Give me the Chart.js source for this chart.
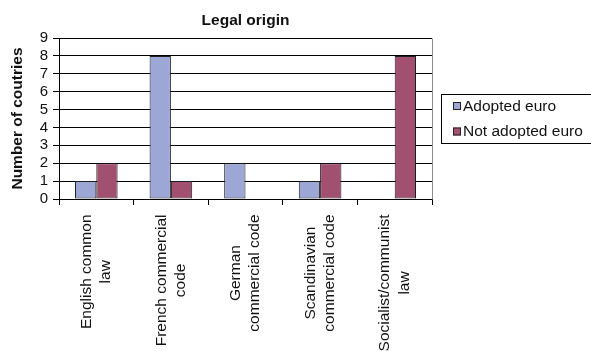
<!DOCTYPE html>
<html>
<head>
<meta charset="utf-8">
<script src="https://cdn.jsdelivr.net/npm/chart.js@4"></script>
<style>
  html, body { margin: 0; padding: 0; background: #fff; }
  #wrap { width: 591px; height: 351px; position: relative; }
</style>
</head>
<body>
<div id="wrap"><canvas id="c" width="591" height="351"></canvas></div>
<script>
// Countries by legal origin, split by euro adoption
const chartTitle = 'Legal origin';
const yAxisTitle = 'Number of coutries';
const categories = [
  ['English common', 'law'],
  ['French commercial', 'code'],
  ['German', 'commercial code'],
  ['Scandinavian', 'commercial code'],
  ['Socialist/communist', 'law']
];
const seriesNames = ['Adopted euro', 'Not adopted euro'];
const adoptedEuro = [1, 8, 2, 1, 0];
const notAdoptedEuro = [2, 1, 0, 2, 8];
const seriesColors = ['#9DA7D6', '#A2506F'];
const yMin = 0, yMax = 9, yStep = 1;

const FONT = '"Liberation Sans", Arial, Helvetica, sans-serif';
const TEXT = '#111';

// Title, axis title, rotated category labels and boxed legend
const decorations = {
  id: 'decorations',
  afterDraw(chart) {
    const ctx = chart.ctx;
    const area = chart.chartArea;
    const xs = chart.scales.x;
    ctx.save();

    // right frame edge of the plot area
    ctx.strokeStyle = '#8c8c8c';
    ctx.lineWidth = 1;
    ctx.beginPath();
    ctx.moveTo(Math.round(area.right) + 0.5, Math.round(area.top) + 0.5);
    ctx.lineTo(Math.round(area.right) + 0.5, Math.round(area.bottom) + 0.5);
    ctx.stroke();

    // chart title
    ctx.fillStyle = TEXT;
    ctx.font = 'bold 15.5px ' + FONT;
    ctx.textAlign = 'center';
    ctx.textBaseline = 'middle';
    ctx.fillText(chartTitle, (area.left + area.right) / 2, 21);

    // y axis title
    ctx.save();
    ctx.translate(18, (area.top + area.bottom) / 2);
    ctx.rotate(-Math.PI / 2);
    ctx.fillText(yAxisTitle, 0, 0);
    ctx.restore();

    // category labels, reading upwards, lines centred on each other
    ctx.font = '15.5px ' + FONT;
    const lineH = 19.3;
    const labelTop = 214.5;
    categories.forEach((lines, i) => {
      const x = xs.getPixelForValue(i);
      const maxW = Math.max(...lines.map(l => ctx.measureText(l).width));
      ctx.save();
      ctx.translate(x, labelTop);
      ctx.rotate(-Math.PI / 2);
      ctx.textAlign = 'center';
      ctx.textBaseline = 'middle';
      lines.forEach((l, j) => {
        ctx.fillText(l, -maxW / 2, (j - (lines.length - 1) / 2) * lineH);
      });
      ctx.restore();
    });

    // legend box
    ctx.strokeStyle = '#000';
    ctx.lineWidth = 1;
    ctx.strokeRect(441.5, 94.5, 160, 49);
    ctx.textAlign = 'left';
    ctx.textBaseline = 'middle';
    const rowY = [106, 131.5];
    chart.data.datasets.forEach((ds, k) => {
      const y = rowY[k];
      ctx.fillStyle = ds.backgroundColor;
      ctx.fillRect(453, y - 4, 8, 8);
      ctx.strokeStyle = '#222';
      ctx.strokeRect(453.5, y - 3.5, 7, 7);
      ctx.fillStyle = TEXT;
      ctx.fillText(ds.label, 463, y + 0.5);
    });
    ctx.restore();
  }
};

new Chart(document.getElementById('c'), {
  type: 'bar',
  data: {
    labels: categories,
    datasets: [
      {
        label: seriesNames[0],
        data: adoptedEuro,
        backgroundColor: seriesColors[0],
        borderColor: '#1e1e1e',
        borderWidth: 1,
        borderSkipped: false
      },
      {
        label: seriesNames[1],
        data: notAdoptedEuro,
        backgroundColor: seriesColors[1],
        borderColor: '#1e1e1e',
        borderWidth: 1,
        borderSkipped: false
      }
    ]
  },
  options: {
    responsive: false,
    devicePixelRatio: 1,
    animation: false,
    events: [],
    layout: { padding: { top: 38, right: 159, left: 0, bottom: 0 } },
    datasets: {
      bar: { barPercentage: 1, categoryPercentage: 2 / 3.5 }
    },
    plugins: {
      legend: { display: false },
      title: { display: false },
      tooltip: { enabled: false }
    },
    scales: {
      x: {
        afterFit(scale) { scale.height = 152; },
        ticks: { display: false },
        grid: {
          offset: true,
          drawOnChartArea: false,
          drawTicks: true,
          tickLength: 6,
          color: '#000',
          lineWidth: 1
        },
        border: { display: true, color: '#000', width: 1 }
      },
      y: {
        min: yMin,
        max: yMax,
        afterFit(scale) { scale.width = 59; },
        ticks: {
          stepSize: yStep,
          autoSkip: false,
          padding: 5,
          color: TEXT,
          font: { family: FONT, size: 15 }
        },
        grid: {
          color: '#000',
          lineWidth: 1,
          drawTicks: true,
          tickLength: 6
        },
        border: { display: true, color: '#000', width: 1 }
      }
    }
  },
  plugins: [decorations]
});
</script>
</body>
</html>
